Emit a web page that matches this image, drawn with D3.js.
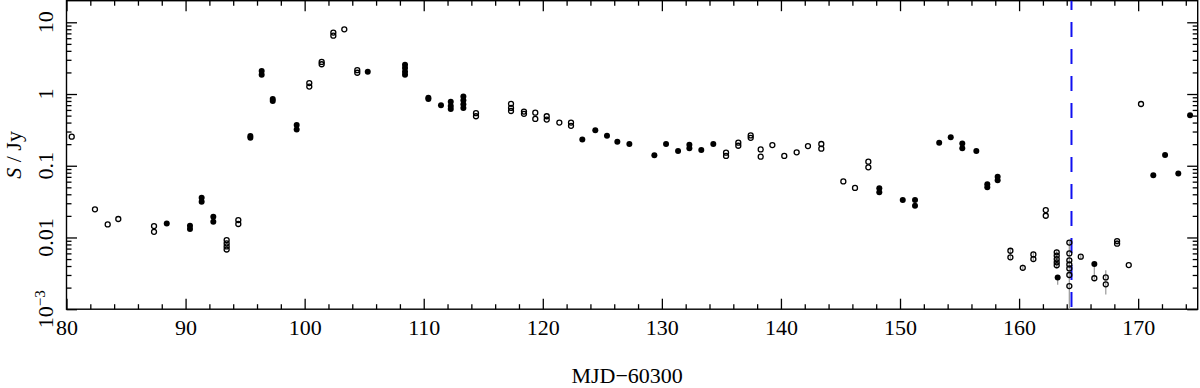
<!DOCTYPE html>
<html>
<head>
<meta charset="utf-8">
<script src="https://cdn.jsdelivr.net/npm/d3@7"></script>
<style>
    body { margin: 0; background: #fff; }
    svg text { font-family: "Liberation Serif", "Times New Roman", serif; fill: #000; }
    .axis path { display: none; }
    .axis line { stroke: #000; stroke-width: 1.3; }
</style>
</head>
<body>
<div id="chart"></div>
<script>
// open symbols: [mjd offset, flux in Jy]
var openMjd  = [80.44, 82.39, 83.46, 84.35, 87.35, 87.35, 93.45, 93.45, 93.45, 93.45, 94.43, 94.43,
    100.39, 100.39, 101.43, 101.43, 102.41, 102.41, 103.33, 104.42, 104.42,
    114.39, 114.39, 117.33, 117.33, 117.33, 118.42, 118.42, 119.37, 119.37, 120.33, 120.33,
    121.39, 122.37, 122.37, 135.39, 135.39, 136.42, 136.42, 137.46, 137.46, 138.30, 138.30,
    139.28, 140.28, 141.32, 142.27, 143.39, 143.39, 145.24, 146.22, 147.34, 147.34,
    159.27, 159.27, 160.31, 161.20, 161.20, 162.24, 162.24,
    163.16, 163.16, 163.16, 163.16, 163.16,
    164.22, 164.22, 164.22, 164.22, 164.22, 164.22, 164.22,
    165.18, 166.32, 167.28, 167.28, 168.23, 168.23, 169.21, 170.24];
var openFlux = [0.254, 0.0247, 0.0152, 0.0181, 0.0144, 0.012, 0.0092, 0.0083, 0.0075, 0.0068, 0.0175, 0.0154,
    1.42, 1.27, 2.8, 2.6, 7.2, 6.5, 7.98, 2.15, 1.98,
    0.54, 0.49, 0.73, 0.64, 0.58, 0.57, 0.53, 0.55, 0.45, 0.49, 0.44,
    0.40, 0.40, 0.36, 0.152, 0.137, 0.21, 0.19, 0.265, 0.245, 0.169, 0.134,
    0.194, 0.137, 0.154, 0.188, 0.201, 0.173, 0.0605, 0.049, 0.114, 0.095,
    0.00653, 0.00528, 0.00378, 0.0058, 0.005, 0.0241, 0.0201,
    0.0062, 0.0056, 0.005, 0.0045, 0.0041,
    0.0085, 0.006, 0.0048, 0.0042, 0.0037, 0.003, 0.0021,
    0.0054, 0.0027, 0.00277, 0.00222, 0.0089, 0.0082, 0.00412, 0.726];

// filled symbols
var fillMjd  = [88.42, 90.37, 90.37, 91.35, 91.35, 92.33, 92.33, 95.44, 95.44, 96.39, 96.39,
    97.32, 97.32, 99.33, 99.33, 105.30, 108.43, 108.43, 108.43, 108.43, 110.39, 110.39, 111.45,
    112.27, 112.27, 112.27, 113.33, 113.33, 113.33, 113.33,
    123.32, 124.41, 125.39, 126.26, 127.27, 129.37, 130.35, 131.36, 132.31, 132.31, 133.31, 134.32,
    148.26, 148.26, 150.23, 151.26, 151.26, 153.29, 154.26, 155.23, 155.23, 156.41,
    157.33, 157.33, 158.20, 158.20, 163.24, 166.32, 171.27, 172.26, 173.37, 174.36];
var fillFlux = [0.0157, 0.0146, 0.0131, 0.0358, 0.0315, 0.0195, 0.0166, 0.26, 0.245, 2.1, 1.85,
    0.85, 0.8, 0.37, 0.32, 2.05, 2.55, 2.3, 2.05, 1.85, 0.89, 0.85, 0.70,
    0.78, 0.68, 0.62, 0.92, 0.82, 0.72, 0.64,
    0.233, 0.312, 0.262, 0.216, 0.201, 0.14, 0.201, 0.16, 0.196, 0.175, 0.166, 0.201,
    0.0484, 0.0426, 0.0333, 0.0333, 0.0277, 0.21, 0.249, 0.205, 0.175, 0.16,
    0.055, 0.05, 0.0703, 0.063, 0.00277, 0.00426, 0.074, 0.141, 0.078, 0.505];

// error bars (low flux epochs)
var errMjd = [159.27, 160.31, 161.20, 163.16, 163.24, 164.22, 165.18, 166.32, 167.28, 168.23];
var errLo  = [0.0049, 0.0034, 0.0046, 0.0037, 0.0022, 0.0010, 0.0049, 0.0026, 0.0016, 0.0079];
var errHi  = [0.0070, 0.0042, 0.0063, 0.0068, 0.0030, 0.0090, 0.0059, 0.0044, 0.0035, 0.0093];

var eventMjd = 164.4;

var xTicks = [80, 90, 100, 110, 120, 130, 140, 150, 160, 170];
var yTicks = [1e-3, 0.01, 0.1, 1, 10];
var yTickLabels = ["10|-3", "0.01", "0.1", "1", "10"];

function drawLightCurve(parentId) {
    var width = 1200, height = 388;
    var left = 66.5, right = 1197.7, top = 0.7, bottom = 309.2;

    var svg = d3.select('#' + parentId)
        .append('svg')
        .attr('width', width)
        .attr('height', height);

    var x = d3.scaleLinear().domain([80, 175]).range([left, right]);
    var y = d3.scaleLog().domain([1e-3, 20]).range([bottom, top]);

    var xMinor = d3.range(80, 176, 2).filter(function(d) { return d % 10 !== 0; });
    var yMinor = [];
    [1e-3, 1e-2, 1e-1, 1, 10].forEach(function(dec) {
        for (var k = 2; k <= 9; k++) {
            var v = dec * k;
            if (v < 20) yMinor.push(v);
        }
    });

    // ticks, all pointing inwards
    svg.append("g").attr("class", "axis")
        .attr("transform", "translate(0," + bottom + ")")
        .call(d3.axisBottom(x).tickValues(xTicks).tickSize(-10.5).tickPadding(10).tickFormat(d3.format("d")));
    svg.append("g").attr("class", "axis")
        .attr("transform", "translate(0," + bottom + ")")
        .call(d3.axisBottom(x).tickValues(xMinor).tickSize(-5).tickFormat(""));
    svg.append("g").attr("class", "axis")
        .attr("transform", "translate(0," + top + ")")
        .call(d3.axisTop(x).tickValues(xTicks).tickSize(-10.5).tickFormat(""));
    svg.append("g").attr("class", "axis")
        .attr("transform", "translate(0," + top + ")")
        .call(d3.axisTop(x).tickValues(xMinor).tickSize(-5).tickFormat(""));

    svg.append("g").attr("class", "axis")
        .attr("transform", "translate(" + left + ",0)")
        .call(d3.axisLeft(y).tickValues(yTicks).tickSize(-10.5).tickFormat(""));
    svg.append("g").attr("class", "axis")
        .attr("transform", "translate(" + left + ",0)")
        .call(d3.axisLeft(y).tickValues(yMinor).tickSize(-5).tickFormat(""));
    svg.append("g").attr("class", "axis")
        .attr("transform", "translate(" + right + ",0)")
        .call(d3.axisRight(y).tickValues(yTicks).tickSize(-10.5).tickFormat(""));
    svg.append("g").attr("class", "axis")
        .attr("transform", "translate(" + right + ",0)")
        .call(d3.axisRight(y).tickValues(yMinor).tickSize(-5).tickFormat(""));

    svg.selectAll(".axis text").style("font-size", "22px");

    // rotated y labels
    var yl = svg.append("g");
    yTicks.forEach(function(v, i) {
        var parts = yTickLabels[i].split("|");
        var t = yl.append("text")
            .attr("transform", "translate(53," + y(v) + ") rotate(-90)")
            .attr("text-anchor", "middle")
            .style("font-size", "22px");
        t.append("tspan").text(parts[0]);
        if (parts[1]) {
            t.append("tspan").attr("dy", "-0.55em").style("font-size", "15px").text("\u2212" + parts[1].slice(1));
        }
    });

    // frame
    svg.append("rect")
        .attr("x", left).attr("y", top)
        .attr("width", right - left).attr("height", bottom - top)
        .attr("fill", "none").attr("stroke", "#000").attr("stroke-width", 1.4);

    // event marker
    svg.append("line")
        .attr("x1", x(eventMjd)).attr("x2", x(eventMjd))
        .attr("y1", top).attr("y2", bottom)
        .attr("stroke", "#1010f0").attr("stroke-width", 2)
        .attr("stroke-dasharray", "15,12").attr("stroke-dashoffset", 5.7);

    // error bars
    svg.selectAll(".err")
        .data(errMjd)
      .enter().append("line")
        .attr("class", "err")
        .attr("x1", function(d) { return x(d); })
        .attr("x2", function(d) { return x(d); })
        .attr("y1", function(d, i) { return y(errLo[i]); })
        .attr("y2", function(d, i) { return y(errHi[i]); })
        .attr("stroke", "#a0a0a0").attr("stroke-width", 1.3);

    svg.selectAll(".open")
        .data(openMjd)
      .enter().append("circle")
        .attr("class", "open")
        .attr("cx", function(d) { return x(d); })
        .attr("cy", function(d, i) { return y(openFlux[i]); })
        .attr("r", 2.5)
        .attr("fill", "none").attr("stroke", "#000").attr("stroke-width", 1.3);

    svg.selectAll(".filled")
        .data(fillMjd)
      .enter().append("circle")
        .attr("class", "filled")
        .attr("cx", function(d) { return x(d); })
        .attr("cy", function(d, i) { return y(fillFlux[i]); })
        .attr("r", 3)
        .attr("fill", "#000");

    // axis titles
    svg.append("text")
        .attr("x", (left + right) / 2 - 5).attr("y", 383)
        .attr("text-anchor", "middle")
        .style("font-size", "22px")
        .text("MJD\u221260300");

    var yt = svg.append("text")
        .attr("transform", "translate(21," + ((top + bottom) / 2) + ") rotate(-90)")
        .attr("text-anchor", "middle")
        .style("font-size", "22px");
    yt.append("tspan").style("font-style", "italic").text("S");
    yt.append("tspan").text(" / Jy");

    return { chart: svg };
}

drawLightCurve('chart');
</script>
</body>
</html>
